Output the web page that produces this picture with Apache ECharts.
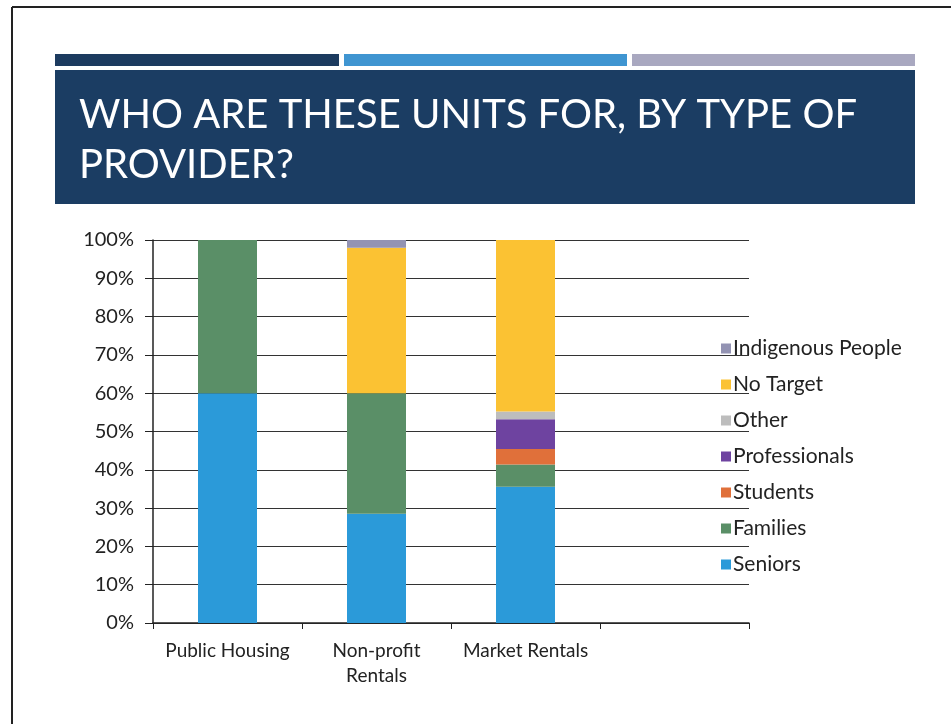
<!DOCTYPE html>
<html>
<head>
<meta charset="utf-8">
<script src="https://cdn.jsdelivr.net/npm/echarts@6/dist/echarts.min.js"></script>
<style>
  html, body { margin: 0; padding: 0; background: #fff; }
  #chart { width: 951px; height: 724px; }
</style>
</head>
<body>
<div id="chart"></div>
<script>
  // categories (last slot is empty, as in the slide)
  const providers = ['Public Housing', 'Non-profit\nRentals', 'Market Rentals', '']
  // share of units per target group, in %
  const seniors = [60, 28.5, 35.6, null]
  const families = [40, 31.5, 5.8, null]
  const students = [0, 0, 4, null]
  const professionals = [0, 0, 7.8, null]
  const other = [0, 0, 2, null]
  const noTarget = [0, 38, 44.8, null]
  const indigenous = [0, 2, 0, null]
  const yTicks = [0, 10, 20, 30, 40, 50, 60, 70, 80, 90, 100]

  const groups = [
    { name: 'Seniors', data: seniors, color: '#2b9ad9' },
    { name: 'Families', data: families, color: '#5a8f67' },
    { name: 'Students', data: students, color: '#e0703a' },
    { name: 'Professionals', data: professionals, color: '#6e43a0' },
    { name: 'Other', data: other, color: '#bdbdbd' },
    { name: 'No Target', data: noTarget, color: '#fbc233' },
    { name: 'Indigenous People', data: indigenous, color: '#9393b3' }
  ]

  const font = 'Lato, "Open Sans", sans-serif'
  const chart = echarts.init(document.getElementById('chart'))

  chart.setOption({
    animation: false,
    backgroundColor: '#fff',
    graphic: [
      // slide border
      { type: 'line', shape: { x1: 12, y1: 7, x2: 951, y2: 7 }, style: { stroke: '#222', lineWidth: 2 } },
      { type: 'line', shape: { x1: 12, y1: 7, x2: 12, y2: 724 }, style: { stroke: '#222', lineWidth: 2 } },
      // top strips
      { type: 'rect', shape: { x: 55, y: 54, width: 284, height: 12 }, style: { fill: '#1c3b5f' } },
      { type: 'rect', shape: { x: 344, y: 54, width: 283, height: 12 }, style: { fill: '#3f95d1' } },
      { type: 'rect', shape: { x: 632, y: 54, width: 283, height: 12 }, style: { fill: '#a9a8c0' } },
      // title banner
      { type: 'rect', shape: { x: 55, y: 70, width: 860, height: 134 }, style: { fill: '#1b3d63' } },
      {
        type: 'text', left: 79, top: 90,
        style: {
          text: 'WHO ARE THESE UNITS FOR, BY TYPE OF\nPROVIDER?',
          fill: '#fff', font: '40px ' + font, lineHeight: 50
        }
      }
    ],
    legend: {
      orient: 'vertical',
      left: 716,
      top: 333,
      itemWidth: 10,
      itemHeight: 10,
      itemGap: 15,
      icon: 'rect',
      data: groups.map(g => g.name).reverse(),
      textStyle: { fontFamily: font, fontSize: 21, color: '#222', padding: [0, 0, 0, -3] }
    },
    grid: { left: 153, right: 202, top: 240, bottom: 101 },
    xAxis: {
      type: 'category',
      data: providers,
      axisLine: { lineStyle: { color: '#222', width: 1.5 } },
      axisTick: { show: true, length: 6, lineStyle: { color: '#222' } },
      axisLabel: {
        fontFamily: font, fontSize: 19, color: '#222',
        margin: 15, lineHeight: 25, interval: 0
      }
    },
    yAxis: {
      type: 'value',
      min: yTicks[0],
      max: yTicks[yTicks.length - 1],
      interval: yTicks[1] - yTicks[0],
      axisLine: { show: true, lineStyle: { color: '#222', width: 1.5 } },
      axisTick: { show: true, length: 8, lineStyle: { color: '#222' } },
      axisLabel: { formatter: '{value}%', fontFamily: font, fontSize: 20, color: '#222', margin: 19 },
      splitLine: { lineStyle: { color: '#333', width: 1.2 } }
    },
    series: groups.map(g => ({
      name: g.name,
      type: 'bar',
      stack: 'total',
      barWidth: 59,
      data: g.data,
      itemStyle: { color: g.color }
    }))
  })
</script>
</body>
</html>
